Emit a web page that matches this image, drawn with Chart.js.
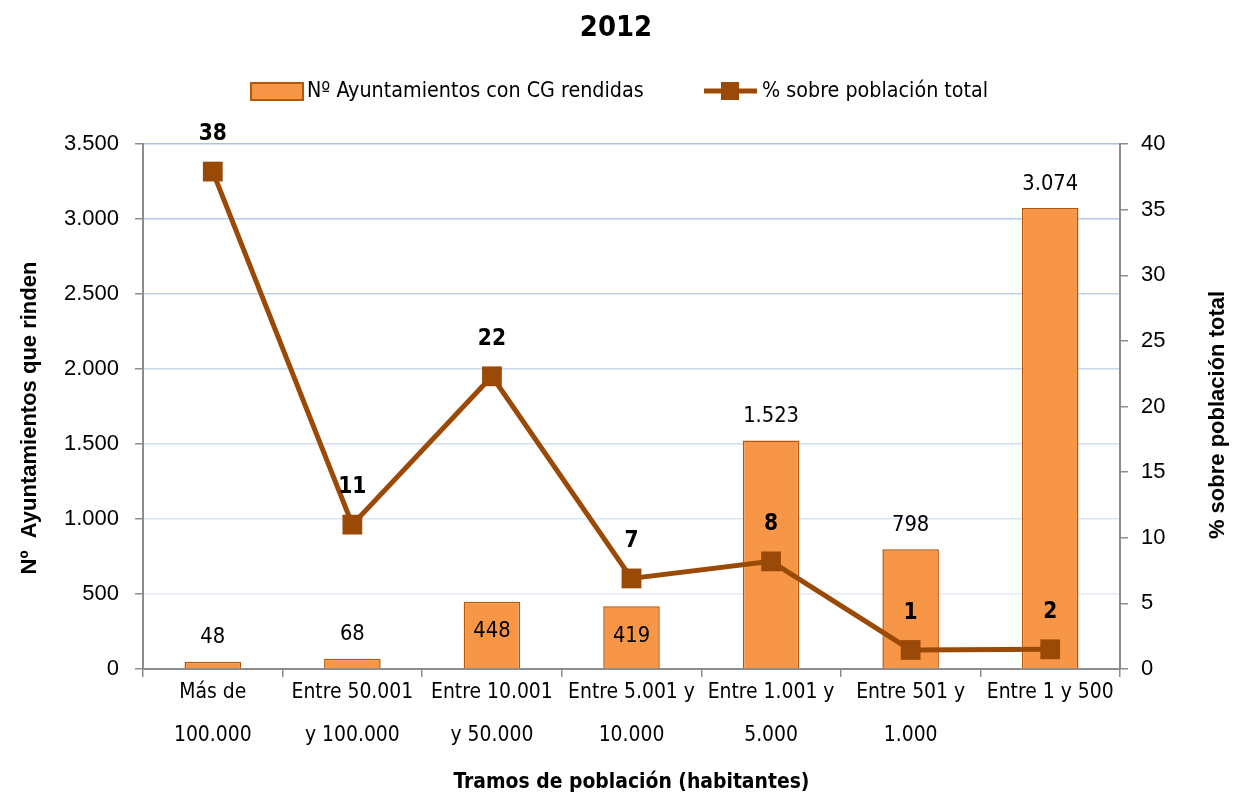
<!DOCTYPE html>
<html>
<head>
<meta charset="utf-8">
<script src="https://cdn.jsdelivr.net/npm/chart.js@4.4.1/dist/chart.umd.min.js"></script>
<style>
  html, body { margin: 0; padding: 0; background: #fff; }
  #wrap { width: 1233px; height: 796px; }
</style>
</head>
<body>
<div id="wrap"><canvas id="chart"></canvas></div>
<script>
/* Data */
const categories = [
  ["Más de", "100.000"],
  ["Entre 50.001", "y 100.000"],
  ["Entre 10.001", "y 50.000"],
  ["Entre 5.001 y", "10.000"],
  ["Entre 1.001 y", "5.000"],
  ["Entre 501 y", "1.000"],
  ["Entre 1 y 500"]
];
const ayuntamientos = [48, 68, 448, 419, 1523, 798, 3074];
const porcentaje = [37.9, 11.0, 22.3, 6.9, 8.2, 1.45, 1.5];
// where the bar label sits: above the bar or inside its top
const barLabelPos = ["out", "out", "in", "in", "out", "out", "out"];
const leftTicks = [0, 500, 1000, 1500, 2000, 2500, 3000, 3500];
const rightTicks = [0, 5, 10, 15, 20, 25, 30, 35, 40];

const SANS = "'Liberation Sans', Arial, sans-serif";
const BAR_FILL = "#F79646";
const BAR_BORDER = "#B65708";
const LINE_COL = "#9A4A06";
const AXIS_COL = "#8C8C8C";
const gridCols = ["#8C8C8C", "#E4EBF6", "#DCE5F3", "#D3DEF0", "#C8D7EC", "#BFD0E9", "#B5C9E6", "#ABC2E3"];

const fmt = (v) => String(v).replace(/\B(?=(\d{3})+(?!\d))/g, ".");

/* Find a narrow font (Arial Narrow look), sized to Arial Narrow widths */
function pickNarrow() {
  const c = document.createElement("canvas").getContext("2d");
  const s = "Entre 50.001 y 100.000 Ayuntamientos rendidas";
  const w = (f) => { c.font = f; return c.measureText(s).width; };
  const target = 0.82 * w("26px 'Liberation Sans'");
  const mono = w("26px monospace");
  const fams = ["'Liberation Sans Narrow'", "'Arial Narrow'", "'DejaVu Sans Condensed'", "'Roboto Condensed'", "'Open Sans Condensed'"];
  for (const f of fams) {
    const ww = w("26px " + f + ", monospace");
    if (Math.abs(ww - mono) > 0.5) return { family: f, stretch: "", k: target / ww };
  }
  const stretched = ["'Open Sans'", "'Noto Sans'", "Roboto", "Inter"];
  for (const f of stretched) {
    const normal = w("26px " + f);
    const cond = w("condensed 26px " + f);
    if (cond < normal * 0.95) return { family: f, stretch: "condensed ", k: target / cond };
  }
  return { family: "'Liberation Sans'", stretch: "", k: 0.82 };
}
const NARROW = pickNarrow();
const nf = (size, bold) => ({
  family: NARROW.family,
  size: Math.round(size * NARROW.k * 10) / 10,
  weight: (NARROW.stretch + (bold ? "bold" : "normal")).trim()
});
const nfs = (size, bold) =>
  (bold ? "bold " : "") + NARROW.stretch + Math.round(size * NARROW.k * 10) / 10 + "px " + NARROW.family;

/* Title, legend, axis titles and data labels */
const decoPlugin = {
  id: "deco",
  afterDraw(chart) {
    const ctx = chart.ctx;
    ctx.save();
    ctx.fillStyle = "#000";
    ctx.textBaseline = "middle";
    // title
    ctx.font = nfs(36, true);
    ctx.textAlign = "center";
    ctx.fillText("2012", 616, 28);
    // legend
    ctx.fillStyle = BAR_FILL;
    ctx.strokeStyle = BAR_BORDER;
    ctx.lineWidth = 2;
    ctx.fillRect(251, 83, 52, 17);
    ctx.strokeRect(251, 83, 52, 17);
    ctx.fillStyle = "#000";
    ctx.font = nfs(26.5, false);
    ctx.textAlign = "left";
    ctx.fillText("Nº Ayuntamientos con CG rendidas", 307, 91);
    ctx.strokeStyle = LINE_COL;
    ctx.lineWidth = 5;
    ctx.beginPath();
    ctx.moveTo(704, 91);
    ctx.lineTo(757, 91);
    ctx.stroke();
    ctx.fillStyle = LINE_COL;
    ctx.fillRect(721, 82, 18, 18);
    ctx.fillStyle = "#000";
    ctx.fillText("% sobre población total", 762, 91);
    // vertical axis titles
    ctx.font = "bold 22px " + SANS;
    ctx.textAlign = "center";
    ctx.translate(30, 418);
    ctx.rotate(-Math.PI / 2);
    ctx.fillText("Nº  Ayuntamientos que rinden", 0, 0);
    ctx.setTransform(1, 0, 0, 1, 0, 0);
    ctx.translate(1218, 415);
    ctx.rotate(-Math.PI / 2);
    ctx.fillText("% sobre población total", 0, 0);
    ctx.restore();
  },
  afterDatasetsDraw(chart) {
    const ctx = chart.ctx;
    ctx.save();
    ctx.fillStyle = "#000";
    ctx.textAlign = "center";
    ctx.textBaseline = "middle";
    const barMeta = chart.getDatasetMeta(1);
    ctx.font = nfs(27, false);
    barMeta.data.forEach((el, i) => {
      const y = barLabelPos[i] === "in" ? el.y + 30 : el.y - 24;
      ctx.fillText(fmt(ayuntamientos[i]), el.x, y);
    });
    const lineMeta = chart.getDatasetMeta(0);
    ctx.font = nfs(28, true);
    lineMeta.data.forEach((el, i) => {
      ctx.fillText(String(Math.round(porcentaje[i])), el.x, el.y - 37);
    });
    ctx.restore();
  }
};

new Chart(document.getElementById("chart"), {
  type: "bar",
  data: {
    labels: categories,
    datasets: [
      {
        type: "line",
        label: "% sobre población total",
        data: porcentaje,
        yAxisID: "y2",
        order: 0,
        borderColor: LINE_COL,
        borderWidth: 5,
        pointStyle: "rect",
        pointRadius: 14,
        pointBackgroundColor: LINE_COL,
        pointBorderColor: LINE_COL,
        pointBorderWidth: 0,
        tension: 0
      },
      {
        type: "bar",
        label: "Nº Ayuntamientos con CG rendidas",
        data: ayuntamientos,
        yAxisID: "y",
        order: 1,
        backgroundColor: BAR_FILL,
        borderColor: BAR_BORDER,
        borderWidth: 1.5,
        barPercentage: 0.405,
        categoryPercentage: 1
      }
    ]
  },
  options: {
    responsive: true,
    maintainAspectRatio: false,
    animation: false,
    layout: { padding: { top: 144, left: 0, right: 0, bottom: 0 } },
    plugins: {
      legend: { display: false },
      title: { display: false },
      tooltip: { enabled: false }
    },
    scales: {
      x: {
        offset: true,
        grid: {
          offset: true,
          drawOnChartArea: false,
          tickLength: 8,
          color: AXIS_COL,
          lineWidth: 1.5
        },
        border: { color: AXIS_COL, width: 2 },
        ticks: {
          color: "#000",
          padding: -6,
          maxRotation: 0,
          autoSkip: false,
          font: Object.assign(nf(26, false), { lineHeight: 43 / (26 * NARROW.k) })
        },
        title: {
          display: true,
          text: "Tramos de población (habitantes)",
          color: "#000",
          font: nf(26, true),
          padding: { top: 1, bottom: 1 }
        },
        afterFit(scale) { scale.height = 127; }
      },
      y: {
        position: "left",
        min: 0,
        max: 3500,
        afterBuildTicks(scale) { scale.ticks = leftTicks.map((v) => ({ value: v })); },
        grid: {
          color: (c) => gridCols[c.index] || gridCols[7],
          tickColor: AXIS_COL,
          lineWidth: 1.5,
          tickLength: 8
        },
        border: { color: AXIS_COL, width: 2 },
        ticks: {
          color: "#000",
          padding: 16,
          font: { family: SANS, size: 22 },
          callback: (v) => fmt(v)
        },
        afterFit(scale) { scale.width = 143; }
      },
      y2: {
        position: "right",
        min: 0,
        max: 40,
        afterBuildTicks(scale) { scale.ticks = rightTicks.map((v) => ({ value: v })); },
        grid: {
          drawOnChartArea: false,
          color: AXIS_COL,
          lineWidth: 1.5,
          tickLength: 8
        },
        border: { color: AXIS_COL, width: 2 },
        ticks: {
          color: "#000",
          padding: 13,
          font: { family: SANS, size: 22 }
        },
        afterFit(scale) { scale.width = 113; }
      }
    }
  },
  plugins: [decoPlugin]
});
</script>
</body>
</html>
